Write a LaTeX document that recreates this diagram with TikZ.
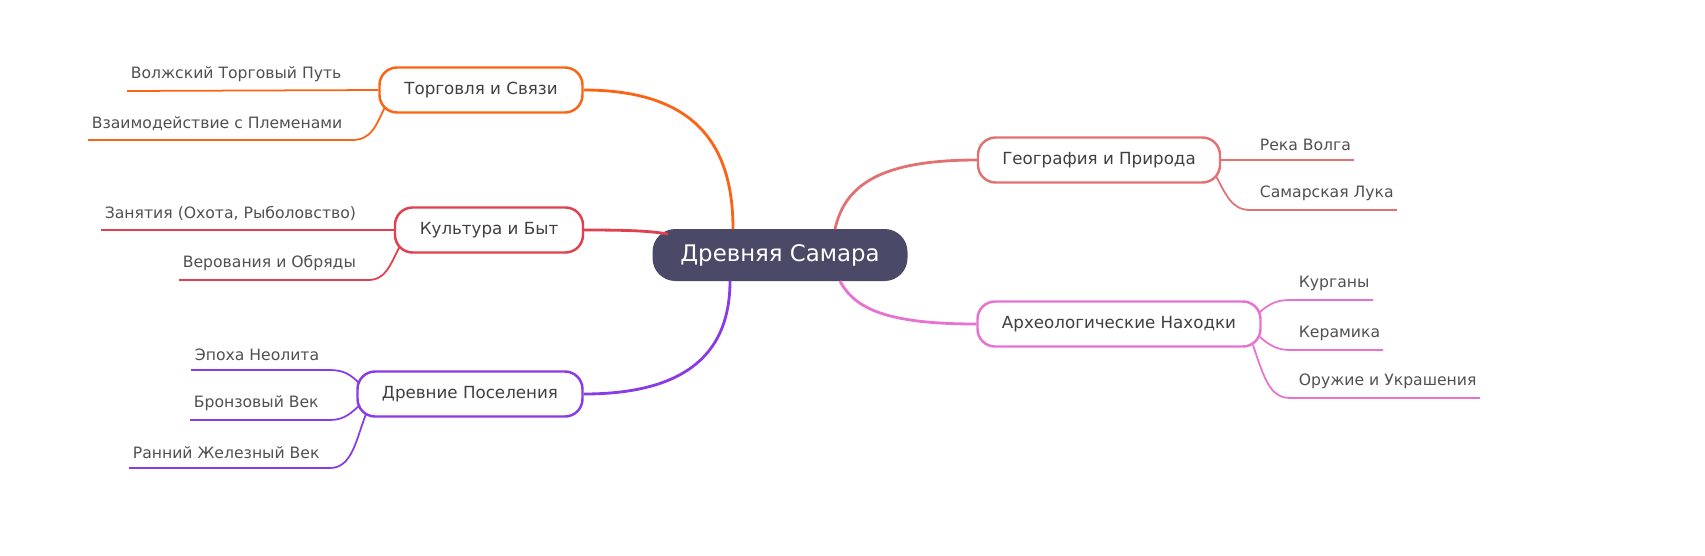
\documentclass[tikz,border=0pt]{standalone}
\usepackage{fontspec}
\setmainfont{DejaVu Sans}
\definecolor{core}{HTML}{4A4A68}
\definecolor{ctrade}{HTML}{FA6414}
\definecolor{cculture}{HTML}{E0404F}
\definecolor{csettle}{HTML}{8A3BE6}
\definecolor{cgeo}{HTML}{E07272}
\definecolor{carch}{HTML}{E872D2}
\definecolor{leaftext}{HTML}{505050}
\tikzset{
  topic/.style={draw=#1, line width=1.4pt, rounded corners=10pt, fill=white,
    minimum height=45*0.02cm, inner sep=0pt, font=\fontsize{9.5}{11}\selectfont, text=black!75},
  leaf/.style={anchor=south west, inner xsep=2pt, inner ysep=5pt, font=\fontsize{8.9}{10}\selectfont, text=leaftext},
  branch/.style={line width=1.6pt, draw=#1},
  twig/.style={line width=1pt, draw=#1}
}
\begin{document}
\begin{tikzpicture}[x=0.02cm,y=-0.02cm]
    \useasboundingbox (0,0) rectangle (1705,555);
    % centre
    \node[fill=core, rounded corners=13pt, minimum width=255*0.02cm, minimum height=52*0.02cm,
      text=white, font=\fontsize{13}{15}\selectfont] (root) at (780,255) {Древняя Самара};
    % topics
    \node[topic=ctrade, minimum width=203*0.02cm] (trade) at (481,90) {Торговля и Связи};
    \node[topic=cculture, minimum width=188*0.02cm] (culture) at (489,230) {Культура и Быт};
    \node[topic=csettle, minimum width=225*0.02cm] (settle) at (470,394) {Древние Поселения};
    \node[topic=cgeo, minimum width=242*0.02cm] (geo) at (1099,160) {География и Природа};
    \node[topic=carch, minimum width=283*0.02cm] (arch) at (1119,324) {Археологические Находки};
    % branches
    \draw[branch=ctrade] (trade.east) .. controls (700,90) and (733,150) .. (733,229);
    \draw[branch=cculture] (culture.east) .. controls (630,230) and (650,231) .. (668,234);
    \draw[branch=csettle] (settle.east) .. controls (690,394) and (730,350) .. (730,281);
    \draw[branch=cgeo] (geo.west) .. controls (880,160) and (845,185) .. (835,229);
    \draw[branch=carch] (arch.west) .. controls (890,324) and (855,310) .. (840,281);
    % trade leaves
    \coordinate (t1) at (127,91);
    \coordinate (t2) at (88,140);
    \node[leaf] (t1l) at (t1) {Волжский Торговый Путь};
    \node[leaf] (t2l) at (t2) {Взаимодействие с Племенами};
    \draw[twig=ctrade] (t1) -- (trade.west);
    \draw[twig=ctrade] (t2) -- (352,140) .. controls (372,140) and (376,125) .. (385,107);
    % culture leaves
    \coordinate (c1) at (101,230);
    \coordinate (c2) at (179,280);
    \node[leaf] (c1l) at (c1) {Занятия (Охота, Рыболовство)};
    \node[leaf] (c2l) at (c2) {Верования и Обряды};
    \draw[twig=cculture] (c1) -- (culture.west);
    \draw[twig=cculture] (c2) -- (368,280) .. controls (386,280) and (390,265) .. (400,246);
    % settlement leaves
    \coordinate (s1) at (191,370);
    \coordinate (s2) at (190,420);
    \coordinate (s3) at (129,468);
    \node[leaf] (s1l) at (s1) {Эпоха Неолита};
    \node[leaf] (s2l) at (s2) {Бронзовый Век};
    \node[leaf] (s3l) at (s3) {Ранний Железный Век};
    \draw[twig=csettle] (s1) -- (330,370) .. controls (345,370) and (352,376) .. (359,383);
    \draw[twig=csettle] (s2) -- (330,420) .. controls (345,420) and (352,412) .. (360,405);
    \draw[twig=csettle] (s3) -- (330,468) .. controls (352,468) and (356,440) .. (366,414);
    % geography leaves
    \coordinate (g1) at (1354,160);
    \coordinate (g2) at (1397,210);
    \node[leaf] (g1l) at (1256,160) {Река Волга};
    \node[leaf] (g2l) at (1256,210) {Самарская Лука};
    \draw[twig=cgeo] (geo.east) -- (g1);
    \draw[twig=cgeo] (1216,176) .. controls (1226,195) and (1232,210) .. (1250,210) -- (g2);
    % archaeology leaves
    \coordinate (a1) at (1373,300);
    \coordinate (a2) at (1383,350);
    \coordinate (a3) at (1480,398);
    \node[leaf] (a1l) at (1295,300) {Курганы};
    \node[leaf] (a2l) at (1295,350) {Керамика};
    \node[leaf] (a3l) at (1295,398) {Оружие и Украшения};
    \draw[twig=carch] (1260,312) .. controls (1270,303) and (1278,300) .. (1290,300) -- (a1);
    \draw[twig=carch] (1260,337) .. controls (1270,346) and (1278,350) .. (1290,350) -- (a2);
    \draw[twig=carch] (1253,345) .. controls (1264,378) and (1270,398) .. (1290,398) -- (a3);
\end{tikzpicture}
\end{document}
